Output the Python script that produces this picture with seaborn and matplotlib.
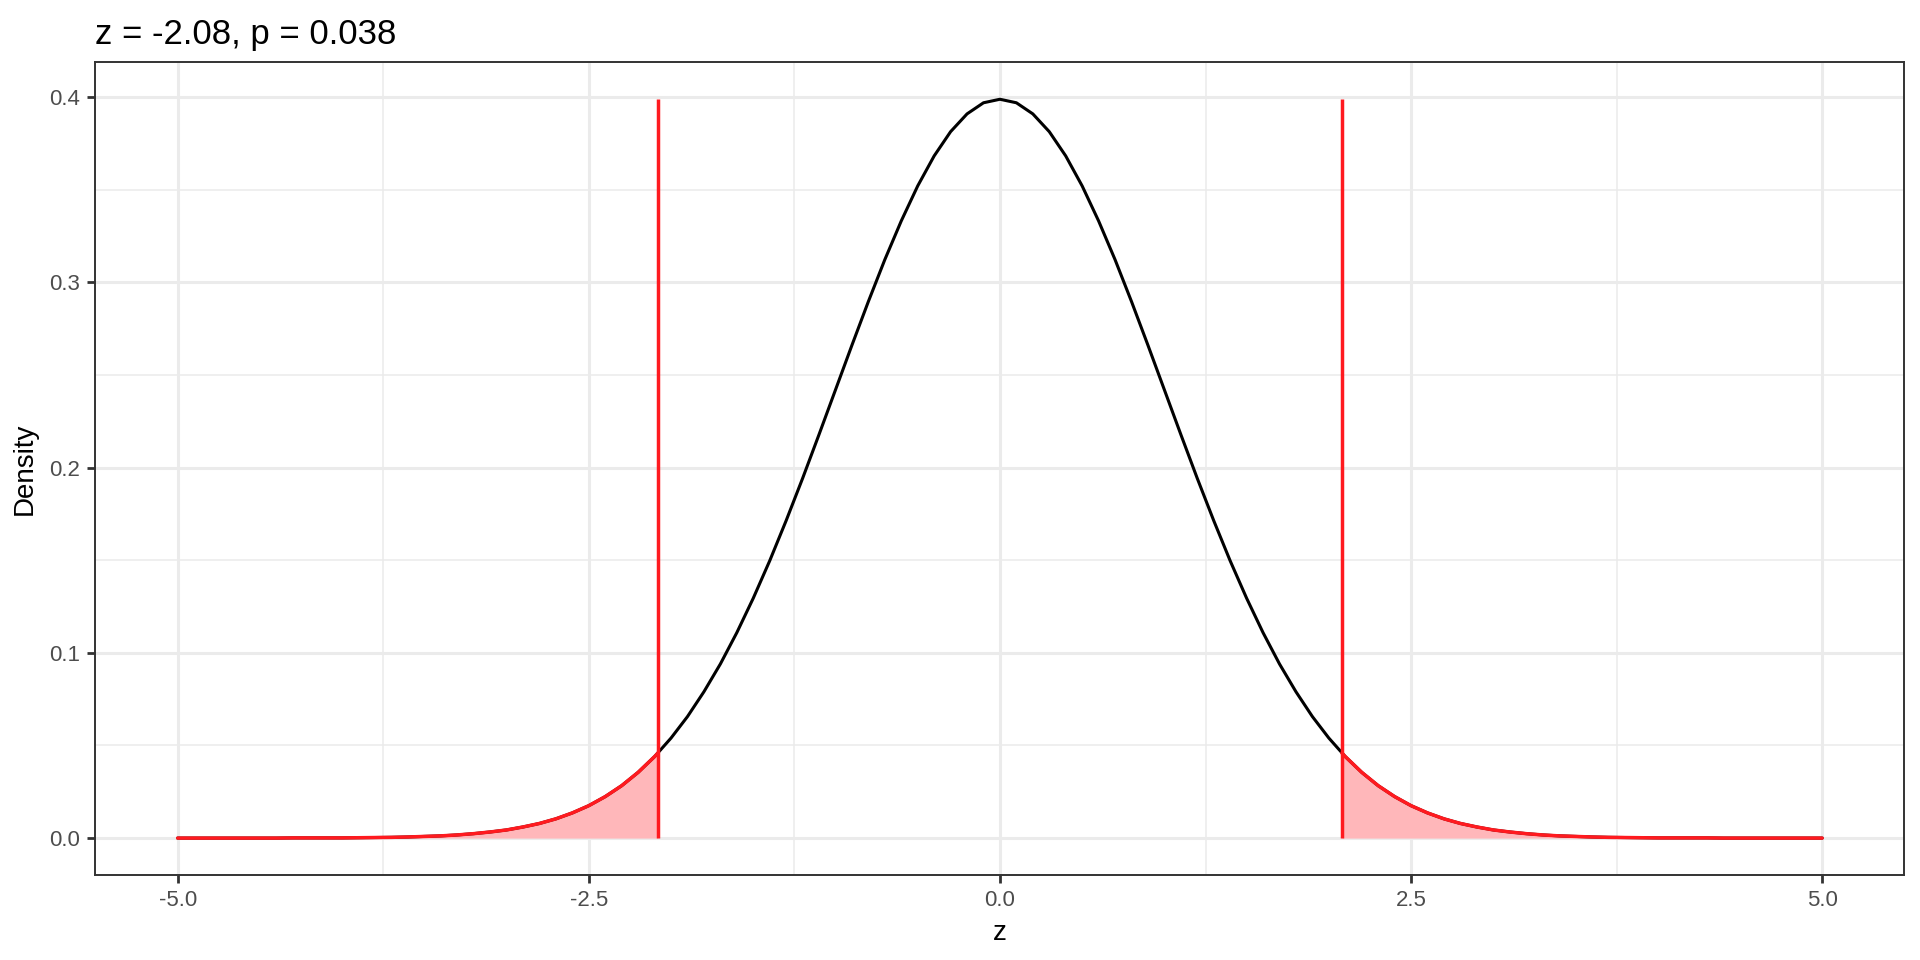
import numpy as np
import pandas as pd
import matplotlib
matplotlib.use("Agg")
import matplotlib.pyplot as plt
import seaborn as sns

z = [round(-5 + 0.1 * i, 1) for i in range(101)]
density = [
    0.0000, 0.0000, 0.0000, 0.0000, 0.0000, 0.0000, 0.0000, 0.0001, 0.0001, 0.0001,
    0.0001, 0.0002, 0.0003, 0.0004, 0.0006, 0.0009, 0.0012, 0.0017, 0.0024, 0.0033,
    0.0044, 0.0060, 0.0079, 0.0104, 0.0136, 0.0175, 0.0224, 0.0283, 0.0355, 0.0440,
    0.0540, 0.0656, 0.0790, 0.0940, 0.1109, 0.1295, 0.1497, 0.1714, 0.1942, 0.2179,
    0.2420, 0.2661, 0.2897, 0.3123, 0.3332, 0.3521, 0.3683, 0.3814, 0.3910, 0.3970,
    0.3989,
    0.3970, 0.3910, 0.3814, 0.3683, 0.3521, 0.3332, 0.3123, 0.2897, 0.2661, 0.2420,
    0.2179, 0.1942, 0.1714, 0.1497, 0.1295, 0.1109, 0.0940, 0.0790, 0.0656, 0.0540,
    0.0440, 0.0355, 0.0283, 0.0224, 0.0175, 0.0136, 0.0104, 0.0079, 0.0060, 0.0044,
    0.0033, 0.0024, 0.0017, 0.0012, 0.0009, 0.0006, 0.0004, 0.0003, 0.0002, 0.0001,
    0.0001, 0.0001, 0.0001, 0.0000, 0.0000, 0.0000, 0.0000, 0.0000, 0.0000, 0.0000,
]
z_crit = 2.08
density_crit = 0.0459
line_top = 0.3989
title = "z = -2.08, p = 0.038"

df = pd.DataFrame({"z": z, "density": density})
left_tail = pd.concat([df[df.z <= -z_crit],
                       pd.DataFrame({"z": [-z_crit], "density": [density_crit]})])
right_tail = pd.concat([pd.DataFrame({"z": [z_crit], "density": [density_crit]}),
                        df[df.z >= z_crit]])

sns.set_theme(style="white")
plt.rcParams["font.family"] = ["Liberation Sans", "DejaVu Sans"]

fig = plt.figure(figsize=(19.2, 9.6), dpi=100)
ax = fig.add_axes([0.0497, 0.0885, 0.9422, 0.8466])

red = "#FF1A1F"
pink = "#FFB7BA"

for tail in (left_tail, right_tail):
    ax.fill_between(tail.z, 0, tail.density, color=pink, lw=0, zorder=2)

sns.lineplot(data=df, x="z", y="density", color="black", lw=2.2,
             estimator=None, sort=False, ax=ax, zorder=3)
for tail in (left_tail, right_tail):
    sns.lineplot(data=tail, x="z", y="density", color=red, lw=2.5,
                 estimator=None, sort=False, ax=ax, zorder=4)
ax.vlines([-z_crit, z_crit], 0, line_top, color=red, lw=2.5, zorder=4)

ax.set_xlim(-5.5, 5.5)
ax.set_ylim(-0.01995, 0.41885)
ax.set_xticks([-5.0, -2.5, 0.0, 2.5, 5.0])
ax.set_xticklabels(["-5.0", "-2.5", "0.0", "2.5", "5.0"])
ax.set_yticks([0.0, 0.1, 0.2, 0.3, 0.4])
ax.set_yticklabels(["0.0", "0.1", "0.2", "0.3", "0.4"])
ax.set_xticks([-3.75, -1.25, 1.25, 3.75], minor=True)
ax.set_yticks([0.05, 0.15, 0.25, 0.35], minor=True)

ax.grid(which="major", color="#EBEBEB", lw=2.2, zorder=0)
ax.grid(which="minor", color="#EBEBEB", lw=1.1, zorder=0)
ax.set_axisbelow(True)
for s in ax.spines.values():
    s.set_color("#333333")
    s.set_linewidth(1.4)

ax.tick_params(which="major", length=6, width=2.0, color="#333333",
               labelsize=16, labelcolor="#4D4D4D", pad=5,
               bottom=True, left=True)
ax.tick_params(which="minor", length=0)

ax.set_xlabel("z", fontsize=20, color="black", labelpad=6)
ax.set_ylabel("Density", fontsize=20, color="black", labelpad=8)
ax.set_title(title, loc="left", fontsize=25, color="black", pad=13)

fig.savefig("out.png", dpi=100, facecolor="white")
